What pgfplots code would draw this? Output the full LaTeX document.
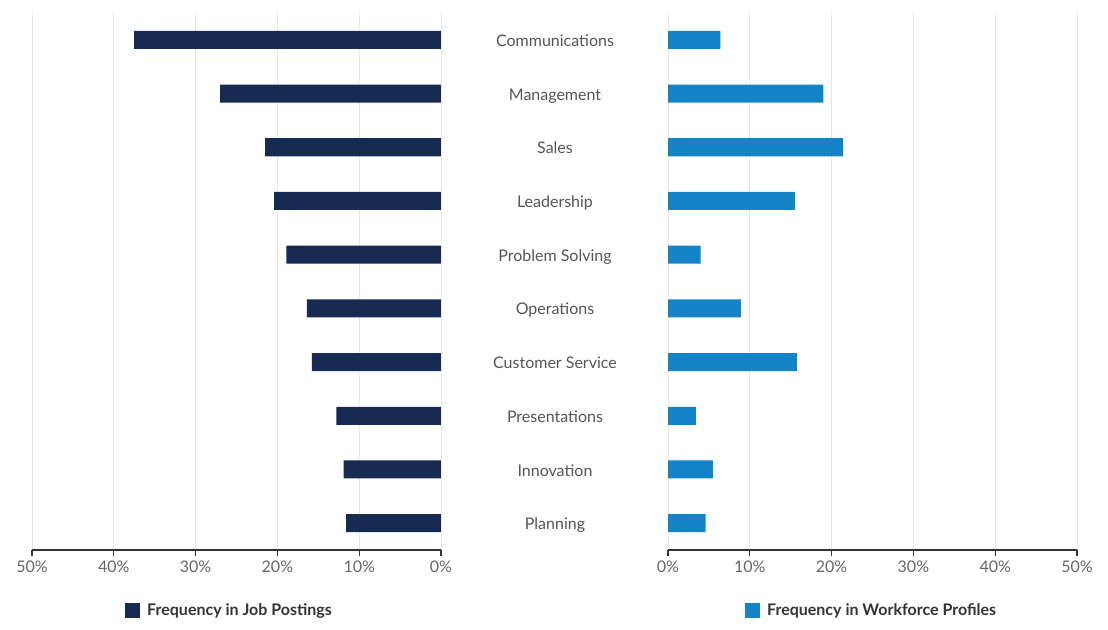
\documentclass[border=0pt]{standalone}
\usepackage{fontspec}
\setmainfont{Lato}
\usepackage{pgfplots}
\pgfplotsset{compat=1.18}
\definecolor{navy}{HTML}{172A52}
\definecolor{skyb}{HTML}{1484C7}
\definecolor{gridc}{HTML}{E8E8E8}
\definecolor{txt}{HTML}{555555}
\definecolor{tickc}{HTML}{666666}
\definecolor{legc}{HTML}{333333}
\begin{document}
\begin{tikzpicture}[x=1pt,y=1pt]
\useasboundingbox (0,0) rectangle (1108,629);
\pgfplotsset{
  base/.style={
    scale only axis, width=409pt, height=537pt,
    xmin=0, xmax=50, ymin=-0.5, ymax=9.5, y dir=reverse,
    xbar, bar width=18pt,
    xtick={0,10,20,30,40,50},
    xticklabels={0\%,10\%,20\%,30\%,40\%,50\%},
    xticklabel style={font=\fontsize{16}{19}\selectfont, text=tickc, yshift=-1.5pt},
    xmajorgrids, grid style={gridc, line width=0.8pt},
    axis x line*=bottom,
    x axis line style={black!80, line width=1.1pt},
    tick align=outside, major tick length=6pt,
    xtick style={black!80, line width=1.1pt},
    ytick style={draw=none},
    ytick={0,...,9},
    legend style={draw=none, fill=none, inner sep=0pt, anchor=west,
      font=\fontsize{16}{19}\selectfont\bfseries, text=legc,
      nodes={inner sep=1pt},
      /tikz/every odd column/.append style={column sep=6pt}},
    legend image code/.code={\fill[##1] (0pt,-7.5pt) rectangle (15pt,7.5pt);},
  }
}
% Left axis: Job Postings
\begin{axis}[base, at={(32pt,79pt)}, anchor=south west,
    x dir=reverse,
    axis y line*=right, y axis line style={draw=none},
    yticklabels={Communications,Management,Sales,Leadership,Problem Solving,Operations,Customer Service,Presentations,Innovation,Planning},
    yticklabel style={anchor=center, xshift=108pt, font=\fontsize{16}{19}\selectfont, text=txt,
      text height=11.5pt, text depth=0pt, inner ysep=0pt, yshift=-0.8pt},
    legend style={at={(0.2274,-0.1127)}},
  ]
  \addplot[fill=navy, draw=none] coordinates {
    (37.5,0) (27.0,1) (21.5,2) (20.4,3) (18.9,4)
    (16.4,5) (15.8,6) (12.8,7) (11.9,8) (11.6,9)
  };
  \addlegendentry{Frequency in Job Postings}
\end{axis}
% Right axis: Workforce Profiles
\begin{axis}[base, at={(668pt,79pt)}, anchor=south west,
    axis y line*=left, y axis line style={draw=none},
    yticklabels={},
    legend style={at={(0.188,-0.1127)}},
  ]
  \addplot[fill=skyb, draw=none] coordinates {
    (6.4,0) (19.0,1) (21.4,2) (15.5,3) (4.0,4)
    (8.9,5) (15.75,6) (3.4,7) (5.5,8) (4.6,9)
  };
  \addlegendentry{Frequency in Workforce Profiles}
\end{axis}
\end{tikzpicture}
\end{document}
